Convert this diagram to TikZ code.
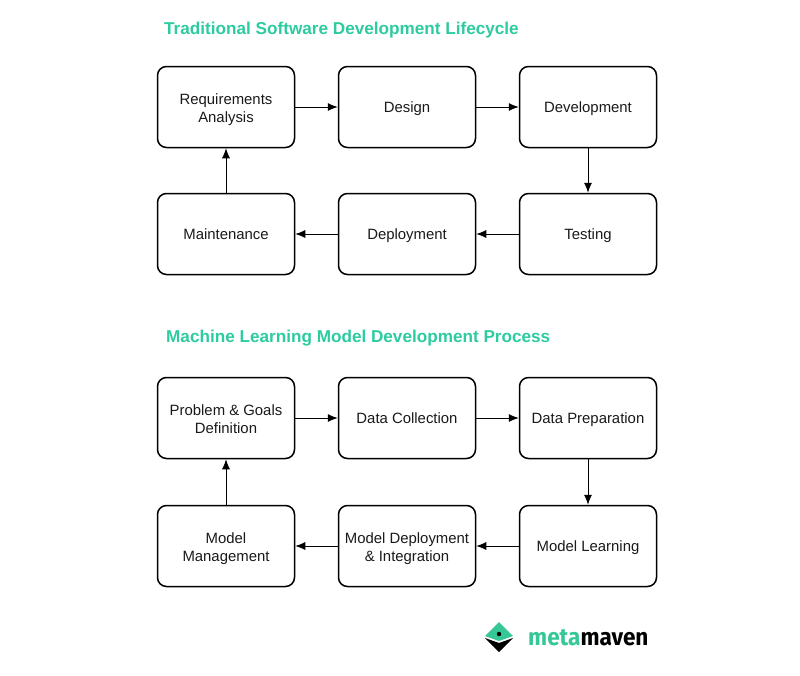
\documentclass[tikz,border=0pt]{standalone}
\usepackage{fontspec}
\setmainfont{Liberation Sans}
\newfontfamily\logofont[FakeStretch=0.94]{Fira Sans}
\usetikzlibrary{arrows.meta}
\definecolor{titlegreen}{HTML}{2CCBA0}
\definecolor{logogreen}{HTML}{35C795}
\tikzset{
	stage/.style={draw=black,line width=1.5pt,rounded corners=9pt,minimum width=137pt,minimum height=81pt,align=center,inner sep=0pt,text height=13pt,text depth=3pt,font=\fontsize{14.9}{18}\selectfont,text=black!90},
	twolines/.style={text height=33pt,text depth=3pt},
	title/.style={anchor=west,inner sep=0pt,text=titlegreen,font=\fontsize{17.15}{20}\selectfont\bfseries},
	flow/.style={draw=black,line width=0.8pt,-{Latex[length=10pt,width=8pt]}}
}
\begin{document}
\begin{tikzpicture}[x=1pt,y=-1pt]
	\useasboundingbox (0,0) rectangle (800,675);
	\node [title] (tradtitle) at (164,30) {Traditional Software Development Lifecycle};
	\node [stage,twolines] (req) at (226,107) {Requirements\\Analysis};
	\node [stage] (design) at (407,107) {Design};
	\node [stage] (dev) at (588,107) {Development};
	\node [stage] (test) at (588,234) {Testing};
	\node [stage] (deploy) at (407,234) {Deployment};
	\node [stage] (maint) at (226,234) {Maintenance};
	\draw [flow] (req) -- (design);
	\draw [flow] (design) -- (dev);
	\draw [flow] (dev) -- (test);
	\draw [flow] (test) -- (deploy);
	\draw [flow] (deploy) -- (maint);
	\draw [flow] (maint) -- (req);
	\node [title] (mltitle) at (166,338) {Machine Learning Model Development Process};
	\node [stage,twolines] (goals) at (226,418) {Problem \& Goals\\Definition};
	\node [stage] (collect) at (407,418) {Data Collection};
	\node [stage] (prep) at (588,418) {Data Preparation};
	\node [stage] (learn) at (588,546) {Model Learning};
	\node [stage,twolines] (integ) at (407,546) {Model Deployment\\\& Integration};
	\node [stage,twolines] (manage) at (226,546) {Model\\Management};
	\draw [flow] (goals) -- (collect);
	\draw [flow] (collect) -- (prep);
	\draw [flow] (prep) -- (learn);
	\draw [flow] (learn) -- (integ);
	\draw [flow] (integ) -- (manage);
	\draw [flow] (manage) -- (goals);
	% logo
	\fill [logogreen] (485,636) -- (499,622) -- (513,636) -- (499,641) -- cycle;
	\fill [black] (485,638) -- (499,643) -- (513,638) -- (499,652) -- cycle;
	\fill [black] (499,634) circle (2.2);
	\node [anchor=west,inner sep=0pt,font=\logofont\bfseries\fontsize{24}{24}\selectfont] (logo) at (528,638) {\textcolor{logogreen}{meta}maven};
\end{tikzpicture}
\end{document}
